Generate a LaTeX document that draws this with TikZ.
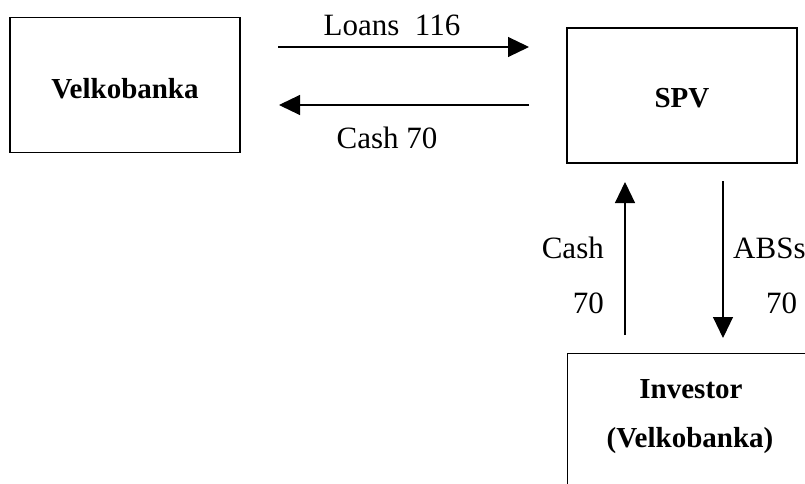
\documentclass[tikz,border=0pt]{standalone}
\usepackage{fontspec}
\setmainfont{Liberation Serif}
\usetikzlibrary{arrows.meta}
\begin{document}
\begin{tikzpicture}[x=1pt,y=-1pt,
  box/.style={draw, line width=1.3pt, rectangle, inner sep=0pt},
  boxtext/.style={font=\fontsize{29}{33}\selectfont\bfseries, inner sep=0pt},
  lab/.style={font=\fontsize{31}{35}\selectfont, inner sep=0pt},
  flow/.style={line width=1.1pt, -{Triangle[length=21pt,width=20pt]}}]
\useasboundingbox (0,0) rectangle (805,484);
\clip (0,0) rectangle (805,484);
% boxes
\node[box, minimum width=230pt, minimum height=135pt] (velko) at (125,85) {};
\node[box, minimum width=230pt, minimum height=135pt] (spv) at (682,95.5) {};
\node[box, minimum width=245pt, minimum height=160pt, anchor=north west] (inv) at (567,353) {};
% box texts
\node[boxtext, anchor=base] (tvelko) at (125,99) {Velkobanka};
\node[boxtext, anchor=base] (tspv) at (682,108) {SPV};
\node[boxtext, anchor=base] (tinv1) at (691,398) {Investor};
\node[boxtext, anchor=base] (tinv2) at (690,447) {(Velkobanka)};
% arrow ends
\coordinate (l1) at (278,47);
\coordinate (l2) at (529,47);
\coordinate (c1) at (529,105);
\coordinate (c2) at (279,105);
\coordinate (u1) at (625,335);
\coordinate (u2) at (625,182);
\coordinate (d1) at (723,181);
\coordinate (d2) at (723,338);
\draw[flow] (l1) -- (l2);
\draw[flow] (c1) -- (c2);
\draw[flow] (u1) -- (u2);
\draw[flow] (d1) -- (d2);
% labels
\node[lab, anchor=base] (loans) at (392,36) {Loans\ \ 116};
\node[lab, anchor=base] (cash) at (387,148) {Cash 70};
\node[lab, anchor=base east] (cashv) at (604,258) {Cash};
\node[lab, anchor=base east] (cashn) at (604,313) {70};
\node[lab, anchor=base west] (abs) at (733,258) {ABSs};
\node[lab, anchor=base west] (absn) at (766,313) {70};
\end{tikzpicture}
\end{document}
